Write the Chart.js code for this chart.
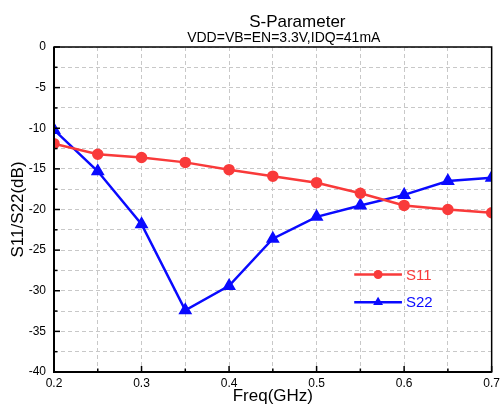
<!DOCTYPE html>
<html>
<head>
<meta charset="utf-8">
<script src="https://cdn.jsdelivr.net/npm/chart.js@4"></script>
<style>
  html, body { margin: 0; padding: 0; background: #fff; }
  #wrap { width: 504px; height: 409px; }
</style>
</head>
<body>
<div id="wrap"><canvas id="sparChart"></canvas></div>
<script>
(function() {
  var ctx = document.getElementById('sparChart');
  var font = '"Liberation Sans", Arial, sans-serif';

  var freqs = [0.2, 0.25, 0.3, 0.35, 0.4, 0.45, 0.5, 0.55, 0.6, 0.65, 0.7];
  var s11 = [-11.9, -13.2, -13.6, -14.2, -15.1, -15.9, -16.7, -18.0, -19.5, -20.0, -20.4];
  var s22 = [-10.2, -15.3, -21.8, -32.4, -29.4, -23.6, -20.9, -19.5, -18.2, -16.5, -16.1];

  var titleText = 'S-Parameter';
  var subtitleText = 'VDD=VB=EN=3.3V,IDQ=41mA';

  var s11Color = '#f93a3a';
  var s22Color = '#0a0aff';

  function toPoints(xs, ys) {
    return xs.map(function(x, i) { return { x: x, y: ys[i] }; });
  }

  function isMajor(v, step) {
    return Math.abs(Math.round(v / step) * step - v) < 1e-6;
  }

  /* inward ticks, box frame, titles and in-plot legend */
  var framePlugin = {
    id: 'originFrame',
    afterDraw: function(chart) {
      var c = chart.ctx;
      var a = chart.chartArea;
      var xs = chart.scales.x, ys = chart.scales.y;
      c.save();
      c.strokeStyle = '#000';
      c.lineWidth = 1.5;
      xs.ticks.forEach(function(t) {
        var px = xs.getPixelForValue(t.value);
        var len = isMajor(t.value, 0.1) ? 6 : 3.5;
        c.beginPath();
        c.moveTo(px, a.bottom);
        c.lineTo(px, a.bottom - len);
        c.stroke();
      });
      ys.ticks.forEach(function(t) {
        var py = ys.getPixelForValue(t.value);
        var len = isMajor(t.value, 5) ? 6 : 3.5;
        c.beginPath();
        c.moveTo(a.left, py);
        c.lineTo(a.left + len, py);
        c.stroke();
      });
      c.strokeRect(a.left, a.top, a.right - a.left, a.bottom - a.top);
      c.lineWidth = 2;
      c.beginPath();
      c.moveTo(a.left, a.top);
      c.lineTo(a.left, a.bottom);
      c.lineTo(a.right, a.bottom);
      c.stroke();

      /* titles (offset to the right like the original) */
      var w = a.right - a.left, h = a.bottom - a.top;
      c.fillStyle = '#000';
      c.textAlign = 'center';
      c.textBaseline = 'alphabetic';
      c.font = '17px ' + font;
      c.fillText(titleText, a.left + w * 0.556, 27);
      c.font = '14px ' + font;
      c.fillText(subtitleText, a.left + w * 0.525, 41.5);

      /* legend */
      var x0 = a.left + w * 0.686, x1 = a.left + w * 0.795;
      var rows = [0.70, 0.785];
      chart.data.datasets.forEach(function(ds, i) {
        var y = a.top + h * rows[i];
        c.strokeStyle = ds.borderColor;
        c.lineWidth = ds.borderWidth;
        c.beginPath();
        c.moveTo(x0, y);
        c.lineTo(x1, y);
        c.stroke();
        c.fillStyle = ds.borderColor;
        var mx = (x0 + x1) / 2;
        c.beginPath();
        if (ds.pointStyle === 'triangle') {
          var r = ds.pointRadius;
          c.moveTo(mx, y - r);
          c.lineTo(mx + r * 0.9, y + r * 0.5);
          c.lineTo(mx - r * 0.9, y + r * 0.5);
          c.closePath();
        } else {
          c.arc(mx, y, ds.pointRadius, 0, Math.PI * 2);
        }
        c.fill();
        c.font = '15px ' + font;
        c.textAlign = 'left';
        c.textBaseline = 'middle';
        c.fillText(ds.label, x1 + 4, y + 1);
      });
      c.restore();
    }
  };

  new Chart(ctx, {
    type: 'line',
    data: {
      datasets: [
        {
          label: 'S11',
          data: toPoints(freqs, s11),
          borderColor: s11Color,
          backgroundColor: s11Color,
          pointBackgroundColor: s11Color,
          pointBorderColor: s11Color,
          pointStyle: 'circle',
          pointRadius: 4.5,
          borderWidth: 2.5,
          tension: 0,
          fill: false
        },
        {
          label: 'S22',
          data: toPoints(freqs, s22),
          borderColor: s22Color,
          backgroundColor: s22Color,
          pointBackgroundColor: s22Color,
          pointBorderColor: s22Color,
          pointStyle: 'triangle',
          pointRadius: 5.5,
          borderWidth: 2.5,
          tension: 0,
          fill: false
        }
      ]
    },
    options: {
      responsive: true,
      maintainAspectRatio: false,
      animation: false,
      layout: { padding: { top: 47, right: 11, bottom: 0, left: 0 } },
      plugins: {
        legend: { display: false },
        tooltip: { enabled: false },
        title: { display: false }
      },
      scales: {
        x: {
          type: 'linear',
          min: 0.2,
          max: 0.7,
          afterFit: function(axis) { axis.height = 37; },
          grid: {
            color: '#c8c8c8',
            lineWidth: 1,
            drawTicks: false
          },
          border: { display: false, dash: [4, 3] },
          ticks: {
            stepSize: 0.05,
            autoSkip: false,
            maxRotation: 0,
            padding: 4,
            color: '#000',
            font: { size: 12, family: font },
            callback: function(v) {
              return isMajor(v, 0.1) ? (Math.round(v * 10) / 10).toFixed(1) : '';
            }
          },
          title: {
            display: true,
            text: 'Freq(GHz)',
            color: '#000',
            font: { size: 17, family: font },
            padding: { top: 0, bottom: 2 }
          }
        },
        y: {
          type: 'linear',
          min: -40,
          max: 0,
          afterFit: function(axis) { axis.width = 54; },
          grid: {
            color: '#c8c8c8',
            lineWidth: 1,
            drawTicks: false
          },
          border: { display: false, dash: [4, 3] },
          ticks: {
            stepSize: 2.5,
            autoSkip: false,
            padding: 8,
            color: '#000',
            font: { size: 12, family: font },
            callback: function(v) {
              return isMajor(v, 5) ? String(Math.round(v)) : '';
            }
          },
          title: {
            display: true,
            text: 'S11/S22(dB)',
            color: '#000',
            font: { size: 17, family: font },
            padding: { top: 8, bottom: 0 }
          }
        }
      }
    },
    plugins: [framePlugin]
  });
})();
</script>
</body>
</html>
